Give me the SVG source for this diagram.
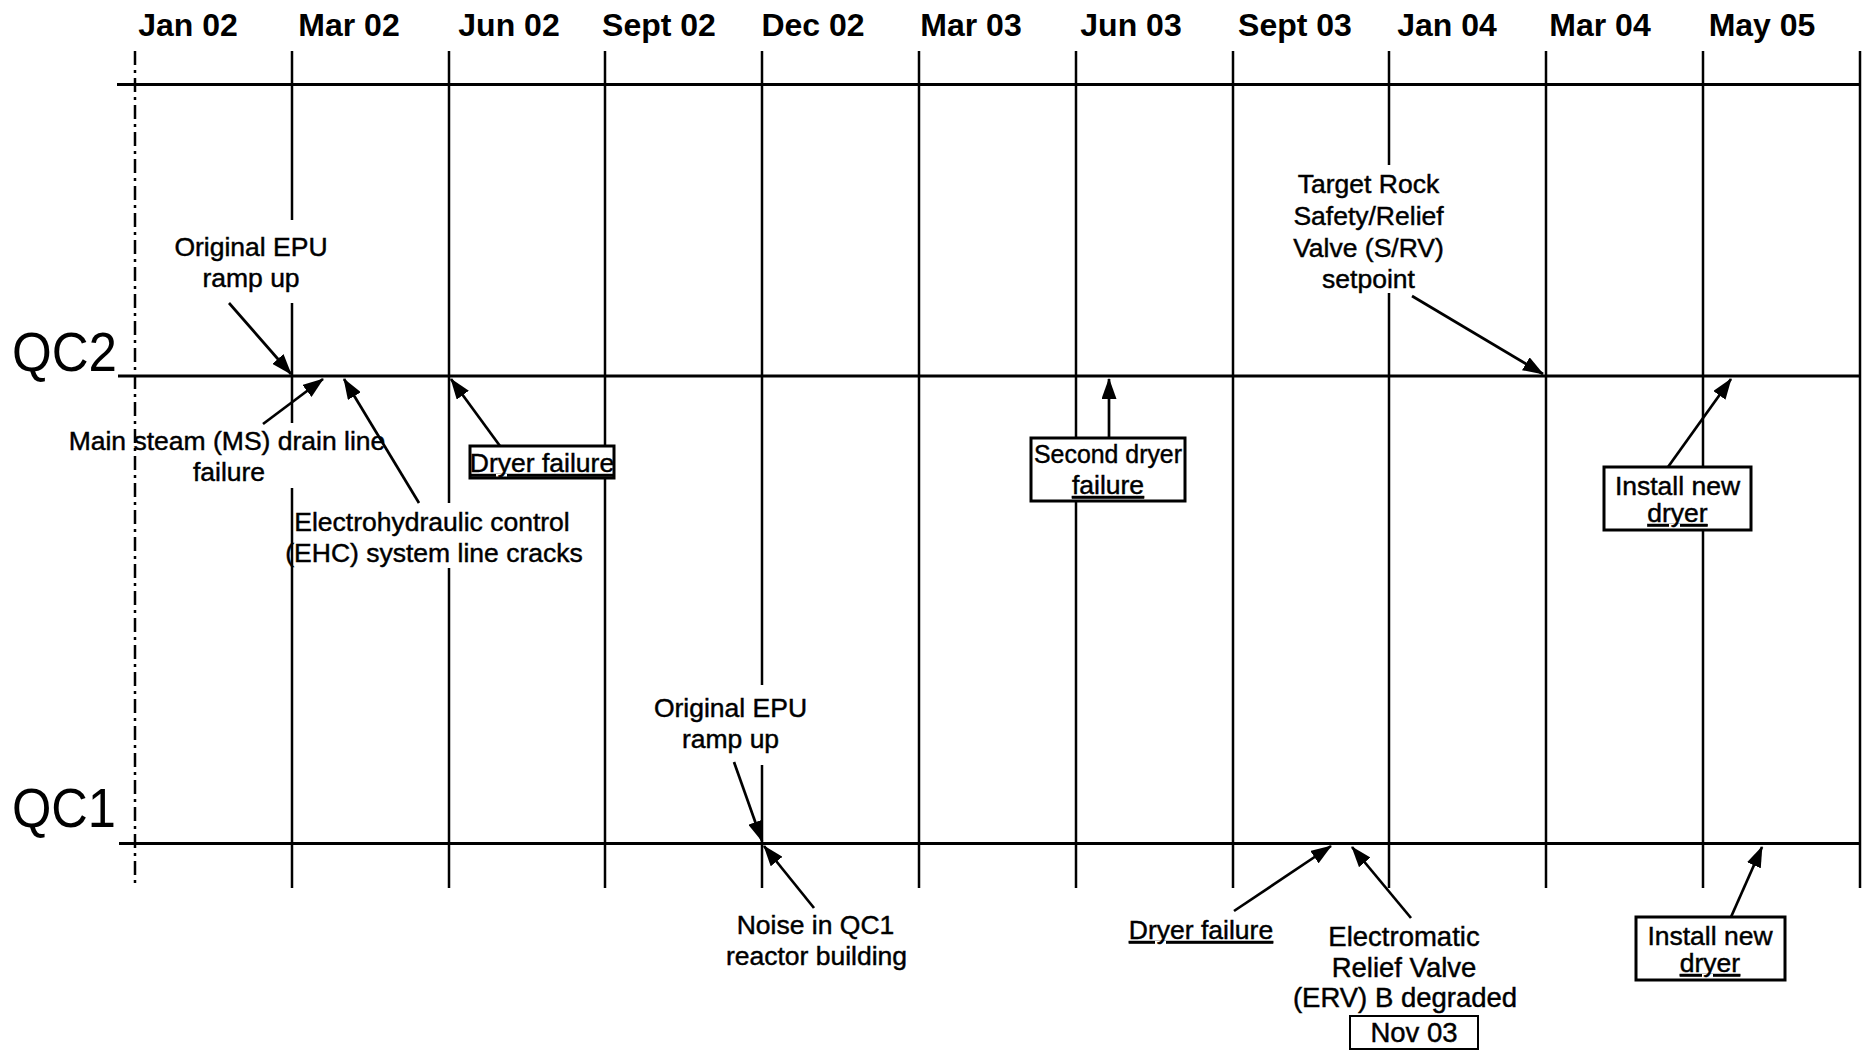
<svg xmlns="http://www.w3.org/2000/svg" width="1869" height="1050" viewBox="0 0 1869 1050">
  <defs>
    <marker id="ah" markerUnits="userSpaceOnUse" markerWidth="21" markerHeight="15" viewBox="0 0 21 15" refX="20" refY="7.5" orient="auto">
      <path d="M0,0 L21,7.5 L0,15 z" fill="#000"/>
    </marker>
    <style>
      .grid { stroke:#000; stroke-width:2.5; fill:none; }
      .axis { stroke:#000; stroke-width:3.2; fill:none; }
      .dashdot { stroke:#000; stroke-width:2.5; stroke-dasharray:14 5 3 5; fill:none; }
      .month { font-family:"Liberation Sans", Arial, sans-serif; font-weight:bold; font-size:32px; text-anchor:middle; fill:#000; }
      .row { font-family:"Liberation Sans", Arial, sans-serif; font-size:55px; fill:#000; }
      .lbl { font-family:"Liberation Sans", Arial, sans-serif; font-size:26.5px; text-anchor:middle; fill:#000; stroke:#000; stroke-width:0.45px; }
      .big { font-size:27.5px; }
      .ul { text-decoration:underline; }
      .bg { fill:#fff; stroke:none; }
      .box { fill:#fff; stroke:#000; stroke-width:3; }
      .thin { stroke-width:2; }
      .arrow { stroke:#000; stroke-width:2.7; fill:none; marker-end:url(#ah); }
    </style>
  </defs>

  <rect x="0" y="0" width="1869" height="1050" fill="#fff"/>

  <!-- month headings -->
  <g id="months">
    <text class="month" x="188" y="36">Jan 02</text>
    <text class="month" x="349" y="36">Mar 02</text>
    <text class="month" x="509" y="36">Jun 02</text>
    <text class="month" x="659" y="36">Sept 02</text>
    <text class="month" x="813" y="36">Dec 02</text>
    <text class="month" x="971" y="36">Mar 03</text>
    <text class="month" x="1131" y="36">Jun 03</text>
    <text class="month" x="1295" y="36">Sept 03</text>
    <text class="month" x="1447" y="36">Jan 04</text>
    <text class="month" x="1600" y="36">Mar 04</text>
    <text class="month" x="1762" y="36">May 05</text>
  </g>

  <!-- vertical month grid -->
  <g id="grid">
    <line class="grid" x1="292" y1="51" x2="292" y2="888"/>
    <line class="grid" x1="449" y1="51" x2="449" y2="888"/>
    <line class="grid" x1="605" y1="51" x2="605" y2="888"/>
    <line class="grid" x1="762" y1="51" x2="762" y2="888"/>
    <line class="grid" x1="919" y1="51" x2="919" y2="888"/>
    <line class="grid" x1="1076" y1="51" x2="1076" y2="888"/>
    <line class="grid" x1="1233" y1="51" x2="1233" y2="888"/>
    <line class="grid" x1="1389" y1="51" x2="1389" y2="888"/>
    <line class="grid" x1="1546" y1="51" x2="1546" y2="888"/>
    <line class="grid" x1="1703" y1="51" x2="1703" y2="888"/>
    <line class="grid" x1="1860" y1="51" x2="1860" y2="888"/>
    <line class="dashdot" x1="135" y1="51" x2="135" y2="886"/>
  </g>

  <!-- unit rows -->
  <g id="rows">
    <line class="axis" x1="117" y1="84.5" x2="1861" y2="84.5"/>
    <line class="axis" x1="118" y1="376" x2="1861" y2="376"/>
    <line class="axis" x1="119" y1="843.5" x2="1861" y2="843.5"/>
    <text class="row" x="12" y="371" textLength="105" lengthAdjust="spacingAndGlyphs">QC2</text>
    <text class="row" x="12" y="827" textLength="104" lengthAdjust="spacingAndGlyphs">QC1</text>
  </g>

  <!-- QC2 events -->
  <g id="qc2-epu">
    <rect class="bg" x="152" y="220" width="190" height="83"/>
    <text class="lbl" x="251" y="256">Original EPU</text>
    <text class="lbl" x="251" y="287">ramp up</text>
  </g>
  <g id="qc2-ms-drain">
    <rect class="bg" x="145" y="423" width="250" height="65"/>
    <text class="lbl" x="227" y="450">Main steam (MS) drain line</text>
    <text class="lbl" x="229" y="481">failure</text>
  </g>
  <g id="qc2-ehc">
    <rect class="bg" x="296" y="503" width="284" height="65"/>
    <text class="lbl" x="432" y="531">Electrohydraulic control</text>
    <text class="lbl" x="434" y="562">(EHC) system line cracks</text>
  </g>
  <g id="qc2-dryer1">
    <rect class="box" x="470" y="446" width="144" height="32"/>
    <text class="lbl ul" x="542" y="472">Dryer failure</text>
  </g>
  <g id="qc2-dryer2">
    <rect class="box" x="1031" y="438" width="154" height="63"/>
    <text class="lbl" x="1108" y="463" textLength="148" lengthAdjust="spacingAndGlyphs">Second dryer</text>
    <text class="lbl ul" x="1108" y="494">failure</text>
  </g>
  <g id="qc2-srv">
    <rect class="bg" x="1292" y="165" width="154" height="128"/>
    <text class="lbl" x="1368.5" y="193">Target Rock</text>
    <text class="lbl" x="1368.5" y="225">Safety/Relief</text>
    <text class="lbl" x="1368.5" y="257">Valve (S/RV)</text>
    <text class="lbl" x="1368.5" y="288">setpoint</text>
  </g>
  <g id="qc2-new-dryer">
    <rect class="box" x="1604" y="467" width="147" height="63"/>
    <text class="lbl" x="1677.5" y="495">Install new</text>
    <text class="lbl ul" x="1677.5" y="522">dryer</text>
  </g>

  <!-- QC1 events -->
  <g id="qc1-epu">
    <rect class="bg" x="636" y="685" width="194" height="80"/>
    <text class="lbl" x="730.5" y="717">Original EPU</text>
    <text class="lbl" x="730.5" y="748">ramp up</text>
  </g>
  <g id="qc1-noise">
    <text class="lbl" x="815.5" y="934">Noise in QC1</text>
    <text class="lbl" x="816.5" y="965">reactor building</text>
  </g>
  <g id="qc1-dryer">
    <text class="lbl ul" x="1201" y="939">Dryer failure</text>
  </g>
  <g id="qc1-erv">
    <text class="lbl big" x="1404" y="946">Electromatic</text>
    <text class="lbl big" x="1404" y="977">Relief Valve</text>
    <text class="lbl big" x="1405" y="1007">(ERV) B degraded</text>
    <rect class="box thin" x="1350" y="1016" width="128" height="33"/>
    <text class="lbl big" x="1414" y="1042">Nov 03</text>
  </g>
  <g id="qc1-new-dryer">
    <rect class="box" x="1636" y="917" width="149" height="63"/>
    <text class="lbl" x="1710" y="945">Install new</text>
    <text class="lbl ul" x="1710" y="972">dryer</text>
  </g>

  <!-- connectors -->
  <g id="connectors">
    <line class="arrow" x1="229" y1="303" x2="291" y2="374"/>
    <line class="arrow" x1="263" y1="424" x2="323" y2="379"/>
    <line class="arrow" x1="419" y1="503" x2="344" y2="379"/>
    <line class="arrow" x1="500" y1="446" x2="451" y2="379"/>
    <line class="arrow" x1="1109" y1="438" x2="1109" y2="379"/>
    <line class="arrow" x1="1412" y1="296" x2="1543" y2="374"/>
    <line class="arrow" x1="1668" y1="467" x2="1731" y2="379"/>
    <line class="arrow" x1="734" y1="762" x2="762" y2="841"/>
    <line class="arrow" x1="814" y1="908" x2="764" y2="846"/>
    <line class="arrow" x1="1234" y1="911" x2="1331" y2="846"/>
    <line class="arrow" x1="1411" y1="918" x2="1352" y2="847"/>
    <line class="arrow" x1="1731" y1="917" x2="1762" y2="847"/>
  </g>
</svg>
